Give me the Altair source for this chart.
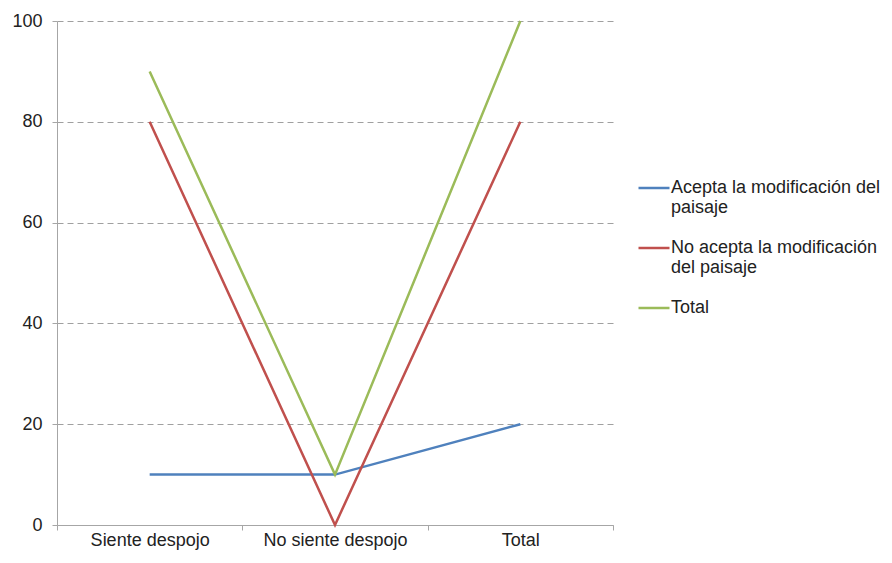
import altair as alt
import pandas as pd

categories = ["Siente despojo", "No siente despojo", "Total"]
series_names = ["Acepta la modificación del paisaje", "No acepta la modificación del paisaje", "Total"]
acepta = [10, 10, 20]
no_acepta = [80, 0, 80]
total = [90, 10, 100]
colors = ["#4F81BD", "#C0504D", "#9BBB59"]
y_ticks = [0, 20, 40, 60, 80, 100]

rows = []
for name, vals in zip(series_names, [acepta, no_acepta, total]):
    for c, v in zip(categories, vals):
        rows.append({"cat": c, "serie": name, "valor": v})
df = pd.DataFrame(rows)

font = "Liberation Sans"

label_expr = (
    "datum.label == 'Acepta la modificación del paisaje' ? ['Acepta la modificación del', 'paisaje'] : "
    "datum.label == 'No acepta la modificación del paisaje' ? ['No acepta la modificación', 'del paisaje'] : datum.label"
)

chart = alt.Chart(df).mark_line(strokeWidth=2.5).encode(
    x=alt.X("cat:N", sort=categories,
            scale=alt.Scale(type="band", paddingInner=0, paddingOuter=0),
            axis=alt.Axis(title=None, labelAngle=0, tickBand="extent", domainColor="#A6A6A6",
                          tickColor="#A6A6A6", tickSize=5, labelPadding=1, grid=False,
                          labelFont=font, labelFontSize=18, labelColor="#222222")),
    y=alt.Y("valor:Q", scale=alt.Scale(domain=[0, 100], nice=False),
            axis=alt.Axis(title=None, values=y_ticks, grid=True, gridDash=[6, 4], gridColor="#A0A0A0",
                          gridWidth=1, domainColor="#A6A6A6", tickColor="#A6A6A6", tickSize=5,
                          labelPadding=10, labelFont=font, labelFontSize=18, labelColor="#222222")),
    color=alt.Color("serie:N", sort=series_names,
                    scale=alt.Scale(domain=series_names, range=colors),
                    legend=alt.Legend(title=None, orient="none", legendX=580, legendY=150,
                                      symbolType="stroke", symbolSize=961, symbolStrokeWidth=2.5,
                                      labelFont=font, labelFontSize=18, labelColor="#222222",
                                      labelExpr=label_expr, labelOffset=0, rowPadding=14,
                                      labelLimit=300)),
).properties(
    width=556, height=504,
    autosize=alt.AutoSizeParams(type="none"),
    padding={"left": 49, "top": 13, "right": 271, "bottom": 30},
).configure_view(stroke=None).configure_axisY(gridOpacity=1)

chart.save("out.html", embed_options={"renderer": "svg", "actions": False})
